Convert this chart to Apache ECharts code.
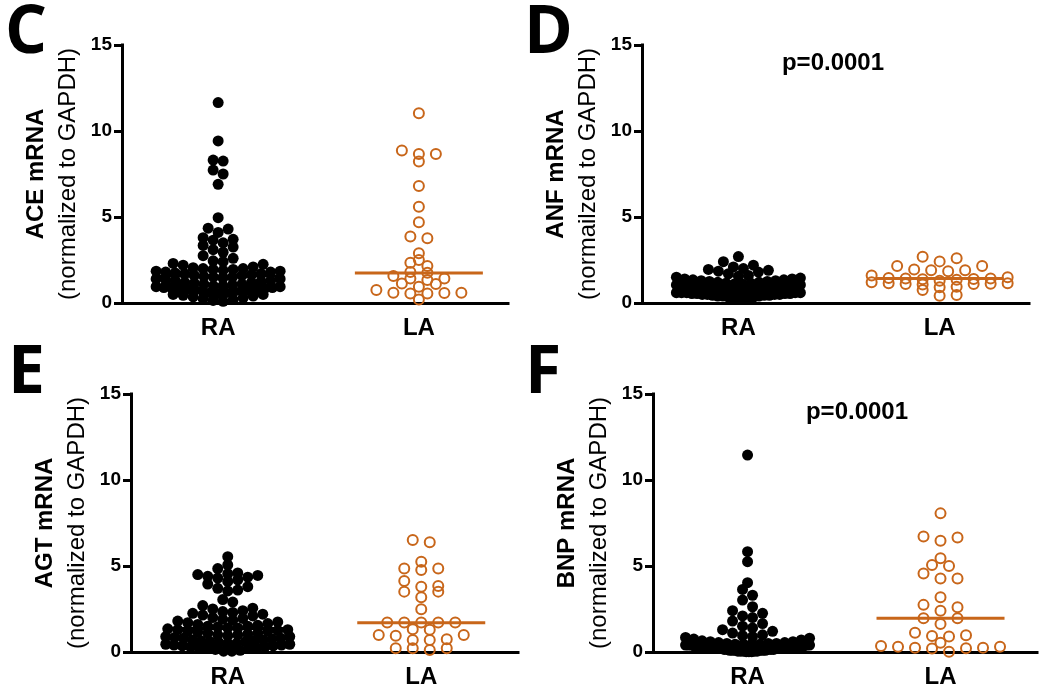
<!DOCTYPE html>
<html>
<head>
<meta charset="utf-8">
<script src="https://cdn.jsdelivr.net/npm/echarts@6/dist/echarts.min.js"></script>
<style>
html,body{margin:0;padding:0;background:#fff;}
#chart{width:1050px;height:699px;}
</style>
</head>
<body>
<div id="chart"></div>
<script>
// ---------------- DATA ----------------
const categories = ['RA', 'LA'];
const yTicks = [0, 5, 10, 15];
const panelLetters = ['C', 'D', 'E', 'F'];
const genes = ['ACE mRNA', 'ANF mRNA', 'AGT mRNA', 'BNP mRNA'];
const subtitles = ['(normalized to GAPDH)', '(normailzed to GAPDH)', '(normalized to GAPDH)', '(normalized to GAPDH)'];
const pValues = ['', 'p=0.0001', '', 'p=0.0001'];

const aceRA = [11.65, 9.42, 8.31, 8.25, 7.73, 7.5, 6.9, 4.96, 4.35, 4.3, 4.1, 3.8, 3.7, 3.65, 3.5, 3.35, 3.25, 3.1, 2.95, 2.75, 2.6, 2.45, 2.4, 2.3, 2.25, 2.2, 2.1, 2.05, 2.0, 2.0, 1.95, 1.95, 1.9, 1.85, 1.85, 1.8, 1.8, 1.75, 1.7, 1.7, 1.65, 1.6, 1.6, 1.55, 1.5, 1.5, 1.45, 1.4, 1.4, 1.35, 1.3, 1.3, 1.25, 1.2, 1.2, 1.15, 1.1, 1.1, 1.05, 1.0, 1.0, 0.95, 0.95, 0.9, 0.9, 0.9, 0.85, 0.85, 0.8, 0.8, 0.75, 0.75, 0.7, 0.7, 0.65, 0.6, 0.6, 0.55, 0.5, 0.5, 0.45, 0.4, 0.35, 0.3, 0.25, 0.2, 0.15, 0.1];
const aceLA = [11.03, 8.86, 8.66, 8.66, 8.22, 6.8, 5.6, 4.69, 3.86, 3.76, 2.89, 2.5, 2.34, 2.15, 1.8, 1.76, 1.57, 1.43, 1.43, 1.34, 1.14, 1.1, 0.95, 0.76, 0.6, 0.6, 0.58, 0.55, 0.55, 0.2];

const anfRA = [2.7, 2.4, 2.2, 2.1, 2.0, 1.95, 1.9, 1.85, 1.8, 1.7, 1.6, 1.55, 1.5, 1.45, 1.4, 1.4, 1.35, 1.35, 1.3, 1.3, 1.25, 1.25, 1.2, 1.2, 1.15, 1.15, 1.1, 1.1, 1.05, 1.05, 1.0, 1.0, 1.0, 0.95, 0.95, 0.95, 0.9, 0.9, 0.9, 0.9, 0.85, 0.85, 0.85, 0.85, 0.8, 0.8, 0.8, 0.8, 0.8, 0.75, 0.75, 0.75, 0.75, 0.7, 0.7, 0.7, 0.7, 0.7, 0.65, 0.65, 0.65, 0.65, 0.6, 0.6, 0.6, 0.6, 0.6, 0.55, 0.55, 0.55, 0.55, 0.5, 0.5, 0.5, 0.5, 0.45, 0.45, 0.45, 0.4, 0.4, 0.4, 0.35, 0.35, 0.3, 0.3, 0.25, 0.2];
const anfLA = [2.69, 2.6, 2.42, 2.15, 2.15, 1.95, 1.9, 1.9, 1.85, 1.6, 1.5, 1.45, 1.42, 1.4, 1.38, 1.42, 1.35, 1.3, 1.2, 1.15, 1.15, 1.12, 1.1, 1.1, 1.08, 0.95, 0.92, 0.75, 0.46, 0.42];

const agtRA = [5.54, 5.06, 4.85, 4.6, 4.55, 4.5, 4.45, 4.4, 4.35, 4.3, 4.2, 4.1, 3.95, 3.8, 3.7, 3.6, 3.55, 3.05, 2.9, 2.7, 2.55, 2.5, 2.4, 2.35, 2.3, 2.25, 2.2, 2.15, 2.1, 2.0, 1.95, 1.9, 1.85, 1.8, 1.75, 1.7, 1.65, 1.6, 1.55, 1.5, 1.5, 1.45, 1.4, 1.4, 1.35, 1.3, 1.3, 1.25, 1.2, 1.2, 1.15, 1.1, 1.1, 1.05, 1.0, 1.0, 0.95, 0.9, 0.9, 0.85, 0.8, 0.8, 0.75, 0.7, 0.7, 0.65, 0.65, 0.6, 0.6, 0.55, 0.5, 0.5, 0.45, 0.45, 0.4, 0.4, 0.35, 0.35, 0.3, 0.3, 0.25, 0.25, 0.2, 0.2, 0.15, 0.1, 0.05, 0.05];
const agtLA = [6.51, 6.38, 5.25, 4.86, 4.86, 4.77, 4.13, 3.84, 3.8, 3.51, 3.51, 3.18, 2.48, 1.71, 1.71, 1.71, 1.71, 1.71, 1.32, 1.3, 0.99, 0.99, 0.95, 0.74, 0.7, 0.7, 0.22, 0.22, 0.12, 0.22];

const bnpRA = [11.45, 5.83, 5.25, 4.03, 3.64, 3.3, 3.02, 2.63, 2.4, 2.25, 2.1, 2.0, 1.8, 1.65, 1.5, 1.4, 1.3, 1.2, 1.1, 1.0, 0.95, 0.9, 0.85, 0.8, 0.75, 0.7, 0.65, 0.6, 0.6, 0.55, 0.55, 0.5, 0.5, 0.5, 0.45, 0.45, 0.45, 0.45, 0.4, 0.4, 0.4, 0.4, 0.4, 0.35, 0.35, 0.35, 0.35, 0.35, 0.3, 0.3, 0.3, 0.3, 0.3, 0.3, 0.25, 0.25, 0.25, 0.25, 0.25, 0.2, 0.2, 0.2, 0.2, 0.2, 0.2, 0.15, 0.15, 0.15, 0.15, 0.15, 0.1, 0.1, 0.1, 0.1, 0.1, 0.1, 0.05, 0.05, 0.05, 0.05, 0.05, 0.02, 0.02, 0.02];
const bnpLA = [8.06, 6.71, 6.66, 6.47, 5.45, 5.06, 5.0, 4.57, 4.28, 4.28, 3.18, 2.74, 2.6, 2.4, 1.96, 1.96, 1.63, 1.12, 0.97, 0.93, 0.9, 0.54, 0.35, 0.3, 0.3, 0.25, 0.25, 0.22, 0.2, 0.02];

const medianRA = [1.57, 0.75, 1.37, 0.40];
const medianLA = [1.74, 1.43, 1.70, 1.96];

const dataRA = [aceRA, anfRA, agtRA, bnpRA];
const dataLA = [aceLA, anfLA, agtLA, bnpLA];

// ---------------- LAYOUT ----------------
const BLACK = '#000000';
const ORANGE = '#c8661a';
const FONT = '"Liberation Sans", Arial, sans-serif';
const grids = [
  {left: 122, top: 45, width: 386, height: 258},
  {left: 642, top: 45, width: 387, height: 258},
  {left: 131, top: 394, width: 387, height: 258},
  {left: 653, top: 394, width: 384, height: 258}
];
const xRange = [[0.521, 2.444], [0.521, 2.444], [0.5, 2.5], [0.51, 2.5]];
const letterPos = [[5, 34], [524, 34], [8, 374], [525, 374]];
const pPos = [null, [833, 63], null, [857, 412]];
const Y_MAX = 15;

// beeswarm-like spreading of points in horizontal rows (layout only)
function swarm(values, center, pxX, pxY, rowH, sMax, maxHalf) {
  const sorted = values.slice().sort((a, b) => a - b);
  const rows = [];
  let cur = null;
  sorted.forEach(v => {
    if (!cur || (v - cur.start) * pxY > rowH) {
      cur = {start: v, pts: []};
      rows.push(cur);
    }
    cur.pts.push(v);
  });
  const out = [];
  rows.forEach(r => {
    const n = r.pts.length;
    const s = n > 1 ? Math.min(sMax, 2 * maxHalf / (n - 1)) : 0;
    const slots = [];
    for (let i = 0; i < n; i++) slots.push((i - (n - 1) / 2) * s);
    slots.sort((a, b) => Math.abs(a) - Math.abs(b) || b - a);
    r.pts.forEach((v, i) => {
      out.push([center + slots[i] / pxX, v]);
    });
  });
  return out;
}

const option = {
  animation: false,
  backgroundColor: '#ffffff',
  textStyle: {fontFamily: FONT, color: BLACK},
  grid: grids.map(g => Object.assign({containLabel: false}, g)),
  xAxis: grids.map((g, i) => ({
    gridIndex: i,
    type: 'value',
    min: xRange[i][0],
    max: xRange[i][1],
    axisLine: {show: true, onZero: false, lineStyle: {color: BLACK, width: 3, cap: 'square'}},
    axisTick: {show: false},
    splitLine: {show: false},
    axisLabel: {
      customValues: [1, 2],
      formatter: v => categories[Math.round(v) - 1],
      fontWeight: 'bold', fontSize: 24, color: BLACK, fontFamily: FONT, margin: 13
    }
  })),
  yAxis: grids.map((g, i) => ({
    gridIndex: i,
    type: 'value',
    min: yTicks[0],
    max: yTicks[yTicks.length - 1],
    interval: yTicks[1] - yTicks[0],
    axisLine: {show: true, onZero: false, lineStyle: {color: BLACK, width: 3, cap: 'square'}},
    axisTick: {show: true, length: 8, lineStyle: {color: BLACK, width: 3}},
    splitLine: {show: false},
    axisLabel: {fontWeight: 'bold', fontSize: 19, color: BLACK, fontFamily: FONT, margin: 10},
    name: '{b|' + genes[i] + '}\n{n|' + subtitles[i] + '}',
    nameLocation: 'middle',
    nameRotate: 90,
    nameGap: 38,
    nameTextStyle: {
      color: BLACK,
      fontFamily: FONT,
      rich: {
        b: {fontWeight: 'bold', fontSize: 24, lineHeight: 32, color: BLACK, fontFamily: FONT},
        n: {fontWeight: 'normal', fontSize: 24, lineHeight: 32, color: BLACK, fontFamily: FONT}
      }
    }
  })),
  series: [],
  graphic: []
};

grids.forEach((g, i) => {
  const pxX = g.width / (xRange[i][1] - xRange[i][0]);
  const pxY = g.height / Y_MAX;
  const halfMed = 64 / pxX;
  option.series.push({
    type: 'scatter', xAxisIndex: i, yAxisIndex: i,
    data: swarm(dataRA[i], 1, pxX, pxY, 7, 10, 62),
    symbol: 'circle', symbolSize: 11,
    itemStyle: {color: BLACK, opacity: 1},
    z: 2
  });
  option.series.push({
    type: 'scatter', xAxisIndex: i, yAxisIndex: i,
    data: swarm(dataLA[i], 2, pxX, pxY, 6, 17, 68),
    symbol: 'circle', symbolSize: 10,
    itemStyle: {color: 'rgba(255,255,255,0)', borderColor: ORANGE, borderWidth: 2, opacity: 1},
    z: 2
  });
  option.series.push({
    type: 'line', xAxisIndex: i, yAxisIndex: i,
    data: [[1 - halfMed, medianRA[i]], [1 + halfMed, medianRA[i]]],
    symbol: 'none', lineStyle: {color: BLACK, width: 3}, z: 3
  });
  option.series.push({
    type: 'line', xAxisIndex: i, yAxisIndex: i,
    data: [[2 - halfMed, medianLA[i]], [2 + halfMed, medianLA[i]]],
    symbol: 'none', lineStyle: {color: ORANGE, width: 3}, z: 3
  });
  option.graphic.push({
    type: 'text', x: letterPos[i][0], y: letterPos[i][1],
    style: {text: panelLetters[i], fill: BLACK, font: 'bold 66px "Open Sans", sans-serif', textAlign: 'left', textVerticalAlign: 'middle'}
  });
  if (pValues[i]) {
    option.graphic.push({
      type: 'text', x: pPos[i][0], y: pPos[i][1],
      style: {text: pValues[i], fill: BLACK, font: 'bold 24px ' + FONT, textAlign: 'center', textVerticalAlign: 'middle'}
    });
  }
});

const chart = echarts.init(document.getElementById('chart'), null, {renderer: 'canvas'});
chart.setOption(option);
</script>
</body>
</html>
